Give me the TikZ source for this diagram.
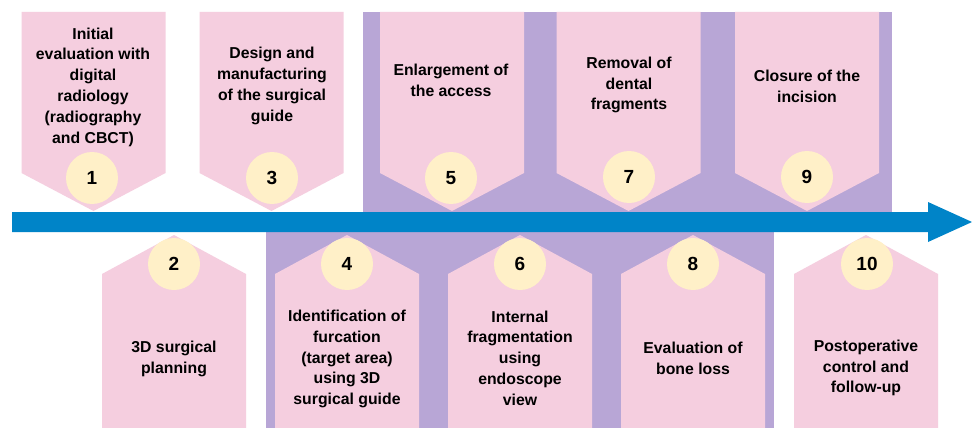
\documentclass[tikz,border=0pt]{standalone}
\usepackage{fontspec}
\setmainfont{Liberation Sans}
\definecolor{pinkc}{RGB}{245,206,223}
\definecolor{purpc}{RGB}{184,166,214}
\definecolor{bluec}{RGB}{0,132,200}
\definecolor{yelc}{RGB}{255,240,200}
\begin{document}
\begin{tikzpicture}[x=1pt,y=-1pt,
  pent/.style={fill=pinkc},
  band/.style={fill=purpc},
  numc/.style={circle,fill=yelc,minimum size=52pt,inner sep=0pt,font=\bfseries\fontsize{19}{19}\selectfont},
  lbl/.style={align=center,font=\bfseries\fontsize{15.8}{20.8}\selectfont,inner sep=0pt}]
\useasboundingbox (0,0) rectangle (972,428);
\fill[white] (0,0) rectangle (972,428);
% purple bands
\fill[band] (363,12) rectangle (892,214);
\fill[band] (266,230) rectangle (774,428);
% top pentagons
\foreach \c in {93.5,271.5,452,628.5,807}{
  \fill[pent] (\c-72,12) -- (\c+72,12) -- (\c+72,173) -- (\c,211) -- (\c-72,173) -- cycle;
}
% bottom pentagons
\foreach \c in {174,347,520,693,866}{
  \fill[pent] (\c-72,428) -- (\c-72,274) -- (\c,235) -- (\c+72,274) -- (\c+72,428) -- cycle;
}
% arrow
\coordinate (as) at (12,222);
\coordinate (ae) at (972,222);
\fill[bluec] (as) ++(0,-10) -- (928,212) -- (928,202) -- (ae) -- (928,242) -- (928,232) -- (12,232) -- cycle;
% circles
\node[numc] (n1) at (92,178) {1};
\node[numc] (n3) at (272,178) {3};
\node[numc] (n5) at (451,178) {5};
\node[numc] (n7) at (629,177) {7};
\node[numc] (n9) at (807,177) {9};
\node[numc] (n2) at (174,264) {2};
\node[numc] (n4) at (347,264) {4};
\node[numc] (n6) at (520,264) {6};
\node[numc] (n8) at (693,264) {8};
\node[numc] (n10) at (867,264) {10};
% labels
\node[lbl] (t1) at (93,87) {Initial\\evaluation with\\digital\\radiology\\(radiography\\and CBCT)};
\node[lbl] (t3) at (272,86) {Design and\\manufacturing\\of the surgical\\guide};
\node[lbl] (t5) at (451,80) {Enlargement of\\the access};
\node[lbl] (t7) at (629,85) {Removal of\\dental\\fragments};
\node[lbl] (t9) at (807,86) {Closure of the\\incision};
\node[lbl] (t2) at (174,359) {3D surgical\\planning};
\node[lbl] (t4) at (347,359) {Identification of\\furcation\\(target area)\\using 3D\\surgical guide};
\node[lbl] (t6) at (520,358) {Internal\\fragmentation\\using\\endoscope\\view};
\node[lbl] (t8) at (693,358) {Evaluation of\\bone loss};
\node[lbl] (t10) at (866,368) {Postoperative\\control and\\follow-up};
\end{tikzpicture}
\end{document}
